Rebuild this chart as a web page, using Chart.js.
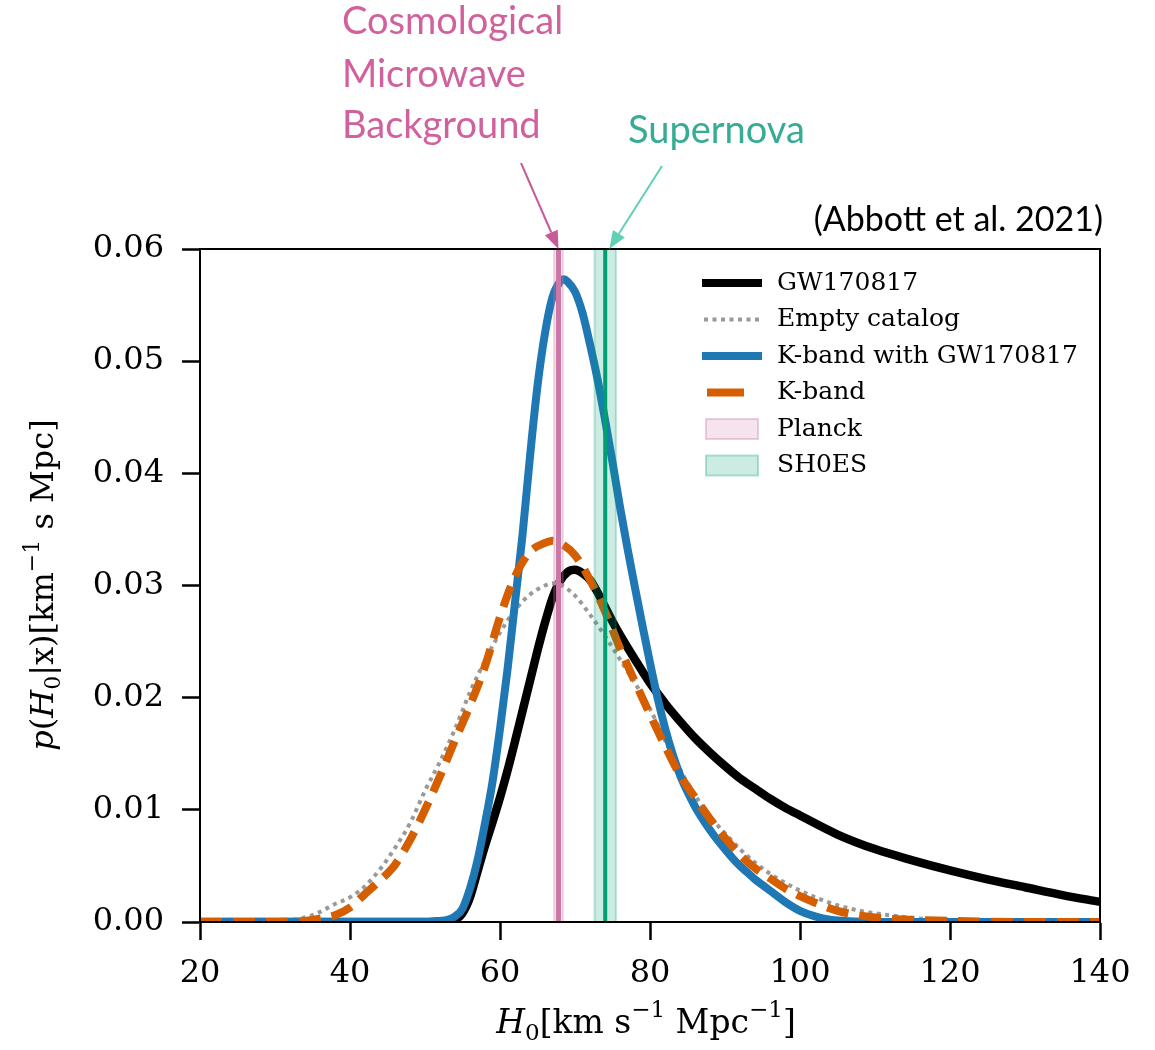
<!DOCTYPE html>
<html>
<head>
<meta charset="utf-8">
<script src="https://cdn.jsdelivr.net/npm/chart.js@4.4.0/dist/chart.umd.min.js"></script>
<style>
  html, body { margin: 0; padding: 0; background: #fff; }
  #wrap { width: 1155px; height: 1050px; }
</style>
</head>
<body>
<div id="wrap"><canvas id="graphH0" width="1155" height="1050"></canvas></div>
<script>
// ---- axes ----
const xTicks = [20, 40, 60, 80, 100, 120, 140];
const yTicks = [0, 0.01, 0.02, 0.03, 0.04, 0.05, 0.06];

// ---- GW170817 (black) ----
const gwH0 = [20, 50, 53, 54, 55, 56, 57, 58, 59, 60, 61, 62, 63, 64, 65, 66, 67, 68, 69, 70, 71, 72, 73, 74, 75, 76, 78, 80, 81, 82, 84, 86, 88, 90, 92, 94, 96, 98, 100, 105, 110, 115, 120, 125, 130, 135, 140];
const gwP  = [0, 0, 0.0001, 0.0002, 0.0008, 0.0022, 0.0045, 0.0068, 0.0089, 0.0111, 0.0135, 0.0161, 0.0188, 0.0215, 0.0242, 0.0267, 0.0289, 0.0304, 0.0312, 0.0314, 0.0311, 0.0305, 0.0294, 0.0281, 0.0268, 0.0256, 0.0234, 0.0213, 0.0204, 0.0195, 0.0179, 0.0164, 0.0151, 0.0139, 0.0128, 0.0119, 0.011, 0.0102, 0.0095, 0.0078, 0.0065, 0.0055, 0.0046, 0.0038, 0.0031, 0.0024, 0.0018];

// ---- Empty catalog (grey dotted) ----
const emptyH0 = [20, 30, 32, 34, 36, 38, 40, 42, 44, 46, 48, 50, 52, 54, 56, 58, 60, 62, 64, 66, 67, 68, 70, 72, 74, 76, 78, 80, 82, 84, 86, 88, 90, 92, 94, 96, 98, 100, 104, 108, 112, 116, 120, 130, 140];
const emptyP  = [0, 0.0001, 0.0002, 0.0004, 0.0009, 0.0016, 0.0022, 0.0032, 0.0047, 0.0066, 0.0088, 0.0117, 0.0143, 0.0172, 0.0205, 0.0233, 0.0258, 0.0278, 0.0292, 0.03, 0.0302, 0.0301, 0.0291, 0.0274, 0.0255, 0.0234, 0.0213, 0.019, 0.0162, 0.0136, 0.0113, 0.0094, 0.0079, 0.0065, 0.0053, 0.0043, 0.0035, 0.0028, 0.0017, 0.001, 0.0006, 0.0003, 0.0002, 0, 0];

// ---- K-band with GW170817 (blue) ----
const kgwH0 = [20, 50, 52, 53, 54, 55, 56, 57, 58, 59, 60, 61, 62, 63, 64, 65, 66, 67, 68, 68.5, 69, 70, 71, 72, 73, 74, 75, 76, 77, 78, 79, 80, 81, 82, 83, 84, 85, 86, 87, 88, 89, 90, 91, 92, 93, 94, 95, 96, 98, 100, 102, 104, 106, 110, 140];
const kgwP  = [0, 0, 0.0001, 0.0002, 0.0005, 0.0012, 0.003, 0.0055, 0.0088, 0.0125, 0.0172, 0.0225, 0.0285, 0.0345, 0.0415, 0.0478, 0.0525, 0.0557, 0.0571, 0.0573, 0.0571, 0.0562, 0.0543, 0.0515, 0.0484, 0.0448, 0.041, 0.037, 0.0333, 0.0298, 0.0264, 0.0231, 0.02, 0.0173, 0.015, 0.0131, 0.0116, 0.0103, 0.0092, 0.0082, 0.0073, 0.0065, 0.0057, 0.005, 0.0044, 0.0038, 0.0033, 0.0028, 0.0018, 0.001, 0.0005, 0.0002, 0.0001, 0, 0];

// ---- K-band (orange dashed) ----
const kH0 = [20, 30, 34, 36, 38, 40, 42, 44, 46, 48, 50, 52, 54, 56, 58, 60, 62, 64, 66, 67, 68, 70, 72, 74, 76, 78, 80, 82, 84, 86, 88, 90, 92, 94, 96, 98, 100, 105, 110, 115, 120, 130, 140];
const kP  = [0, 0, 0.0001, 0.0003, 0.0006, 0.0013, 0.0025, 0.0037, 0.0051, 0.0073, 0.01, 0.013, 0.0162, 0.0193, 0.0228, 0.0272, 0.0308, 0.033, 0.0338, 0.034, 0.0338, 0.0327, 0.0305, 0.0277, 0.0244, 0.0214, 0.0185, 0.0157, 0.0131, 0.0111, 0.0092, 0.0075, 0.006, 0.0048, 0.0039, 0.003, 0.0023, 0.001, 0.0004, 0.0002, 0.0001, 0, 0];

// ---- Planck / SH0ES bands ----
const planckBand = [67.2, 68.4];
const planckMean = 67.8;
const shoesBand = [72.61, 75.45];
const shoesMean = 74.03;

const legendLabels = ['GW170817', 'Empty catalog', 'K-band with GW170817', 'K-band', 'Planck', 'SH0ES'];

const BLACK = '#000000';
const GREY = '#999999';
const BLUE = '#1f77b4';
const ORANGE = '#d55e00';
const PINK = '#cc79a7';
const GREEN = '#009e73';
const SERIF = '"DejaVu Serif", serif';

function toPoints(xs, ys) {
    return xs.map((x, i) => ({ x: x, y: ys[i] }));
}

function bandPoints(band, top) {
    return [
        { x: band[0], y: 0 },
        { x: band[0], y: top },
        { x: band[1], y: top },
        { x: band[1], y: 0 }
    ];
}

function meanPoints(mean, top) {
    return [{ x: mean, y: 0 }, { x: mean, y: top }];
}

const yTop = yTicks[yTicks.length - 1];

const curveCommon = {
    pointRadius: 0,
    fill: false,
    cubicInterpolationMode: 'monotone',
    clip: 0
};

// rich text (italic / sub / sup) for the axis titles
function drawRich(ctx, parts, x, y, rotate, size) {
    const fonts = {
        n: `${size}px ${SERIF}`,
        i: `italic ${size}px ${SERIF}`,
        sub: `${Math.round(size * 0.7)}px ${SERIF}`,
        sup: `${Math.round(size * 0.7)}px ${SERIF}`
    };
    const shift = { n: 0, i: 0, sub: size * 0.3, sup: -size * 0.38 };
    ctx.save();
    ctx.translate(x, y);
    if (rotate) ctx.rotate(-Math.PI / 2);
    ctx.textBaseline = 'middle';
    ctx.textAlign = 'left';
    ctx.fillStyle = '#000';
    let total = 0;
    parts.forEach(p => { ctx.font = fonts[p[1]]; total += ctx.measureText(p[0]).width; });
    let cx = -total / 2;
    parts.forEach(p => {
        ctx.font = fonts[p[1]];
        ctx.fillText(p[0], cx, shift[p[1]]);
        cx += ctx.measureText(p[0]).width;
    });
    ctx.restore();
}

function drawArrow(ctx, x0, y0, x1, y1, color, head) {
    const ang = Math.atan2(y1 - y0, x1 - x0);
    const hx = x1 - head * Math.cos(ang);
    const hy = y1 - head * Math.sin(ang);
    ctx.save();
    ctx.strokeStyle = color;
    ctx.fillStyle = color;
    ctx.lineWidth = 2;
    ctx.beginPath();
    ctx.moveTo(x0, y0);
    ctx.lineTo(hx, hy);
    ctx.stroke();
    ctx.beginPath();
    ctx.moveTo(x1, y1);
    ctx.lineTo(hx + 7 * Math.sin(ang), hy - 7 * Math.cos(ang));
    ctx.lineTo(hx - 7 * Math.sin(ang), hy + 7 * Math.cos(ang));
    ctx.closePath();
    ctx.fill();
    ctx.restore();
}

const decorPlugin = {
    id: 'decor',
    afterDatasetsDraw(chart) {
        const { ctx, chartArea: a } = chart;
        ctx.save();
        ctx.strokeStyle = '#000';
        ctx.lineWidth = 2;
        ctx.strokeRect(a.left, a.top, a.right - a.left, a.bottom - a.top);
        ctx.restore();
    },
    afterDraw(chart) {
        const { ctx, chartArea: a } = chart;
        const xs = chart.scales.x;

        // legend
        const lx0 = 702, lx1 = 762, tx = 777;
        const rows = legendLabels.map((_, i) => 283 + i * 36.5);
        ctx.save();
        ctx.lineCap = 'butt';
        // GW170817
        ctx.strokeStyle = BLACK; ctx.lineWidth = 8;
        ctx.beginPath(); ctx.moveTo(lx0, rows[0]); ctx.lineTo(lx1, rows[0]); ctx.stroke();
        // Empty catalog
        ctx.strokeStyle = GREY; ctx.lineWidth = 4; ctx.setLineDash([4, 4.5]);
        ctx.beginPath(); ctx.moveTo(lx0 + 2, rows[1]); ctx.lineTo(lx1, rows[1]); ctx.stroke();
        ctx.setLineDash([]);
        // K-band with GW170817
        ctx.strokeStyle = BLUE; ctx.lineWidth = 8;
        ctx.beginPath(); ctx.moveTo(lx0, rows[2]); ctx.lineTo(lx1, rows[2]); ctx.stroke();
        // K-band
        ctx.strokeStyle = ORANGE; ctx.lineWidth = 8;
        ctx.beginPath(); ctx.moveTo(lx0 + 5, rows[3]); ctx.lineTo(lx0 + 42, rows[3]); ctx.stroke();
        // Planck / SH0ES patches
        ctx.lineWidth = 2;
        ctx.fillStyle = 'rgba(204,121,167,0.2)'; ctx.strokeStyle = 'rgba(204,121,167,0.35)';
        ctx.fillRect(706, rows[4] - 10, 52, 20); ctx.strokeRect(706, rows[4] - 10, 52, 20);
        ctx.fillStyle = 'rgba(0,158,115,0.2)'; ctx.strokeStyle = 'rgba(0,158,115,0.3)';
        ctx.fillRect(706, rows[5] - 10, 52, 20); ctx.strokeRect(706, rows[5] - 10, 52, 20);
        ctx.fillStyle = '#000';
        ctx.font = `25px ${SERIF}`;
        ctx.textBaseline = 'middle';
        ctx.textAlign = 'left';
        legendLabels.forEach((t, i) => ctx.fillText(t, tx, rows[i]));
        ctx.restore();

        // axis titles
        drawRich(ctx, [['p', 'i'], ['(', 'n'], ['H', 'i'], ['0', 'sub'], ['|x)[km', 'n'], ['\u22121', 'sup'], [' s Mpc]', 'n']], 45, 585, true, 32);
        drawRich(ctx, [['H', 'i'], ['0', 'sub'], ['[km s', 'n'], ['\u22121', 'sup'], [' Mpc', 'n'], ['\u22121', 'sup'], [']', 'n']], 646, 1024, false, 33);

        // annotations
        ctx.save();
        ctx.font = '38px Lato, "Open Sans", sans-serif';
        ctx.textBaseline = 'middle';
        ctx.textAlign = 'left';
        ctx.fillStyle = '#d0619c';
        ctx.fillText('Cosmological', 342, 22);
        ctx.fillText('Microwave', 342, 75);
        ctx.fillText('Background', 342, 126);
        ctx.fillStyle = '#36ac94';
        ctx.fillText('Supernova', 628, 131);
        ctx.fillStyle = '#000';
        ctx.font = '34px Lato, "Open Sans", sans-serif';
        ctx.textAlign = 'right';
        ctx.fillText('(Abbott et al. 2021)', 1103, 220);
        ctx.restore();

        const px = xs.getPixelForValue(planckMean);
        const sx = xs.getPixelForValue(shoesMean);
        drawArrow(ctx, 521, 163, px, a.top, '#c95a98', 18);
        drawArrow(ctx, 662, 166, sx + 4, a.top, '#5fcfb6', 18);
    }
};

const ctx = document.getElementById('graphH0').getContext('2d');

window.graphH0 = new Chart(ctx, {
    type: 'line',
    data: {
        datasets: [
            {
                label: 'Planck',
                data: bandPoints(planckBand, yTop),
                borderColor: 'rgba(204,121,167,0.25)',
                borderWidth: 2,
                backgroundColor: 'rgba(204,121,167,0.2)',
                fill: 'origin',
                pointRadius: 0,
                order: 0
            },
            {
                label: 'Planck mean',
                data: meanPoints(planckMean, yTop),
                borderColor: PINK,
                borderWidth: 5,
                pointRadius: 0,
                fill: false,
                order: 0
            },
            {
                label: 'SH0ES',
                data: bandPoints(shoesBand, yTop),
                borderColor: 'rgba(0,158,115,0.28)',
                borderWidth: 2,
                backgroundColor: 'rgba(0,158,115,0.2)',
                fill: 'origin',
                pointRadius: 0,
                order: 0
            },
            {
                label: 'SH0ES mean',
                data: meanPoints(shoesMean, yTop),
                borderColor: GREEN,
                borderWidth: 4,
                pointRadius: 0,
                fill: false,
                order: 0
            },
            Object.assign({
                label: 'K-band',
                data: toPoints(kH0, kP),
                borderColor: ORANGE,
                borderWidth: 8,
                borderDash: [22, 11],
                order: 1
            }, curveCommon),
            Object.assign({
                label: 'K-band with GW170817',
                data: toPoints(kgwH0, kgwP),
                borderColor: BLUE,
                borderWidth: 8,
                order: 2
            }, curveCommon),
            Object.assign({
                label: 'Empty catalog',
                data: toPoints(emptyH0, emptyP),
                borderColor: GREY,
                borderWidth: 4,
                borderDash: [4, 4.5],
                order: 3
            }, curveCommon),
            Object.assign({
                label: 'GW170817',
                data: toPoints(gwH0, gwP),
                borderColor: BLACK,
                borderWidth: 8.5,
                order: 4
            }, curveCommon)
        ]
    },
    options: {
        responsive: false,
        animation: false,
        devicePixelRatio: 1,
        layout: { padding: { top: 249, right: 55, left: 0, bottom: 0 } },
        plugins: {
            legend: { display: false },
            tooltip: { enabled: false },
            title: { display: false }
        },
        scales: {
            x: {
                type: 'linear',
                min: xTicks[0],
                max: xTicks[xTicks.length - 1],
                afterBuildTicks: scale => { scale.ticks = xTicks.map(v => ({ value: v })); },
                afterFit: scale => { scale.height = 128; },
                grid: { drawOnChartArea: false, drawTicks: true, tickLength: 18, tickWidth: 2.5, tickColor: '#000', color: '#000' },
                border: { display: true, color: '#000', width: 2 },
                ticks: {
                    color: '#000',
                    font: { family: SERIF, size: 32 },
                    padding: 14,
                    maxRotation: 0,
                    autoSkip: false
                }
            },
            y: {
                type: 'linear',
                min: yTicks[0],
                max: yTop,
                afterBuildTicks: scale => { scale.ticks = yTicks.map(v => ({ value: v })); },
                afterFit: scale => { scale.width = 200; },
                grid: { drawOnChartArea: false, drawTicks: true, tickLength: 18, tickWidth: 2.5, tickColor: '#000', color: '#000' },
                border: { display: true, color: '#000', width: 2 },
                ticks: {
                    color: '#000',
                    font: { family: SERIF, size: 32 },
                    padding: 18,
                    callback: v => Number(v).toFixed(2)
                }
            }
        }
    },
    plugins: [decorPlugin]
});
</script>
</body>
</html>
